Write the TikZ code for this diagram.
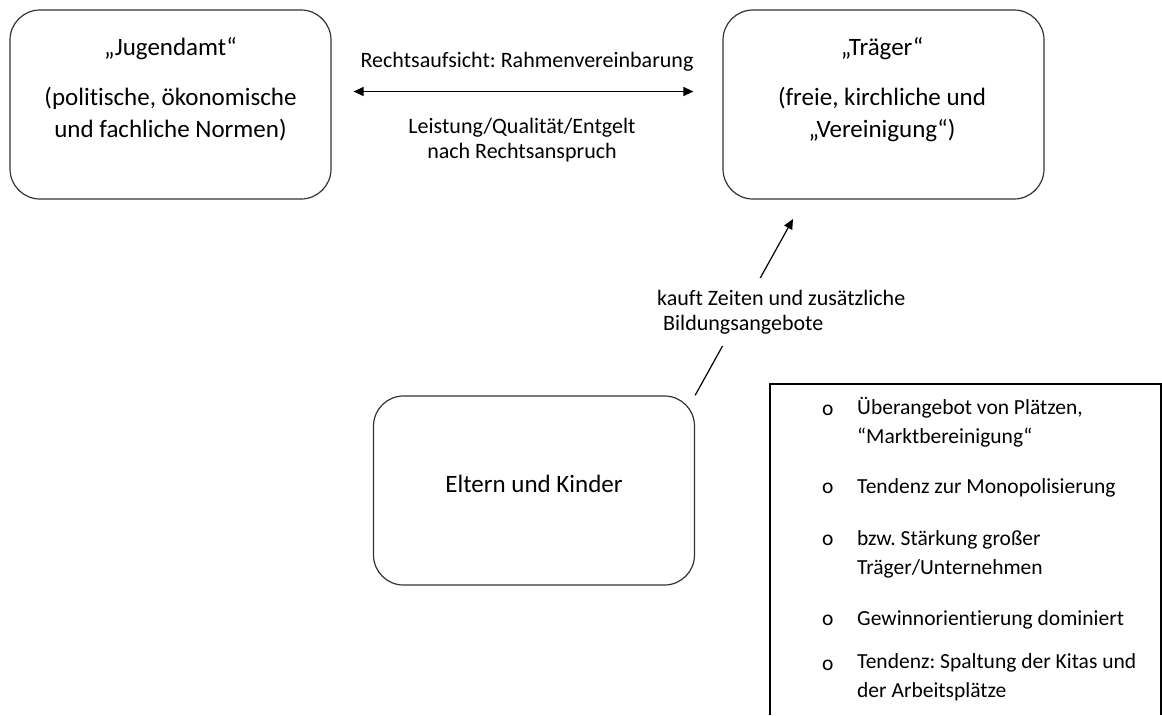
\documentclass[tikz,border=0pt]{standalone}
\usepackage{fontspec}
\setmainfont{Carlito}[Ligatures=NoCommon]
\usetikzlibrary{arrows.meta, positioning}

\tikzset{
  kasten/.style={draw=black!80, line width=1.2pt, rounded corners=30pt,
    minimum width=321pt, minimum height=189pt, inner sep=0pt},
  kastentext/.style={align=center, inner sep=0pt, font=\fontsize{25}{32}\selectfont},
  pfeiltext/.style={align=center, inner sep=0pt, font=\fontsize{22}{25}\selectfont},
  listtext/.style={align=left, inner sep=0pt, font=\fontsize{21.5}{28.5}\selectfont},
  pfeil/.style={line width=1.2pt, >={Triangle[length=10pt,width=9pt]}},
}

\begin{document}
\frenchspacing
\begin{tikzpicture}[x=1pt, y=-1pt]
\useasboundingbox (0,0) rectangle (1162,715);
% Kaesten
\node [kasten] (jugendamt) at (170.5,104.5) {};
\node [kasten] (traeger) at (883.5,104.5) {};
\node [kasten] (eltern) at (534,490.5) {};
% base = Grundlinie der letzten Zeile
\node [kastentext, anchor=base] (jugendamttext) at (170.5,137)
  {„Jugendamt“\\[18pt](politische, ökonomische\\und fachliche Normen)};
\node [kastentext, anchor=base] (traegertext) at (882,137)
  {„Träger“\\[18pt](freie, kirchliche und\\„Vereinigung“)};
\node [kastentext, anchor=base] (elterntext) at (534,492) {Eltern und Kinder};
% Pfeile
\draw [pfeil, <->] ([xshift=22pt,yshift=13pt]jugendamt.east)
  -- ([xshift=-29pt,yshift=13pt]traeger.west);
\node [pfeiltext, anchor=base] (aufsicht) at (527,67) {Rechtsaufsicht: Rahmenvereinbarung};
\node [pfeiltext, anchor=base] (leistung) at (522,158) {Leistung/Qualität/Entgelt\\nach Rechtsanspruch};
\coordinate (kaufziel) at (793,219);
\draw [pfeil, ->] (eltern.north east) -- (kaufziel);
\node [pfeiltext, align=left, fill=white, inner xsep=2pt, inner ysep=12pt, anchor=base west]
  (kauft) at (655,330) {kauft Zeiten und zusätzliche\\\hspace{6pt}Bildungsangebote};
% Liste rechts unten
\draw [line width=1.2pt] (770,715) |- (1161,384) -- (1161,715);
\foreach \y/\yl/\txt [count=\i] in {415/443/{Überangebot von Plätzen,\\“Marktbereinigung“},
    493/493/{Tendenz zur Monopolisierung},
    545/574/{bzw. Stärkung großer\\Träger/Unternehmen},
    625/625/{Gewinnorientierung dominiert},
    670/697/{Tendenz: Spaltung der Kitas und\\der Arbeitsplätze}} {
  \node [listtext, anchor=base west] (punkt\i) at (822,\y) {o};
  \node [listtext, anchor=base west] (eintrag\i) at (857,\yl) {\txt};
}
\end{tikzpicture}
\end{document}
